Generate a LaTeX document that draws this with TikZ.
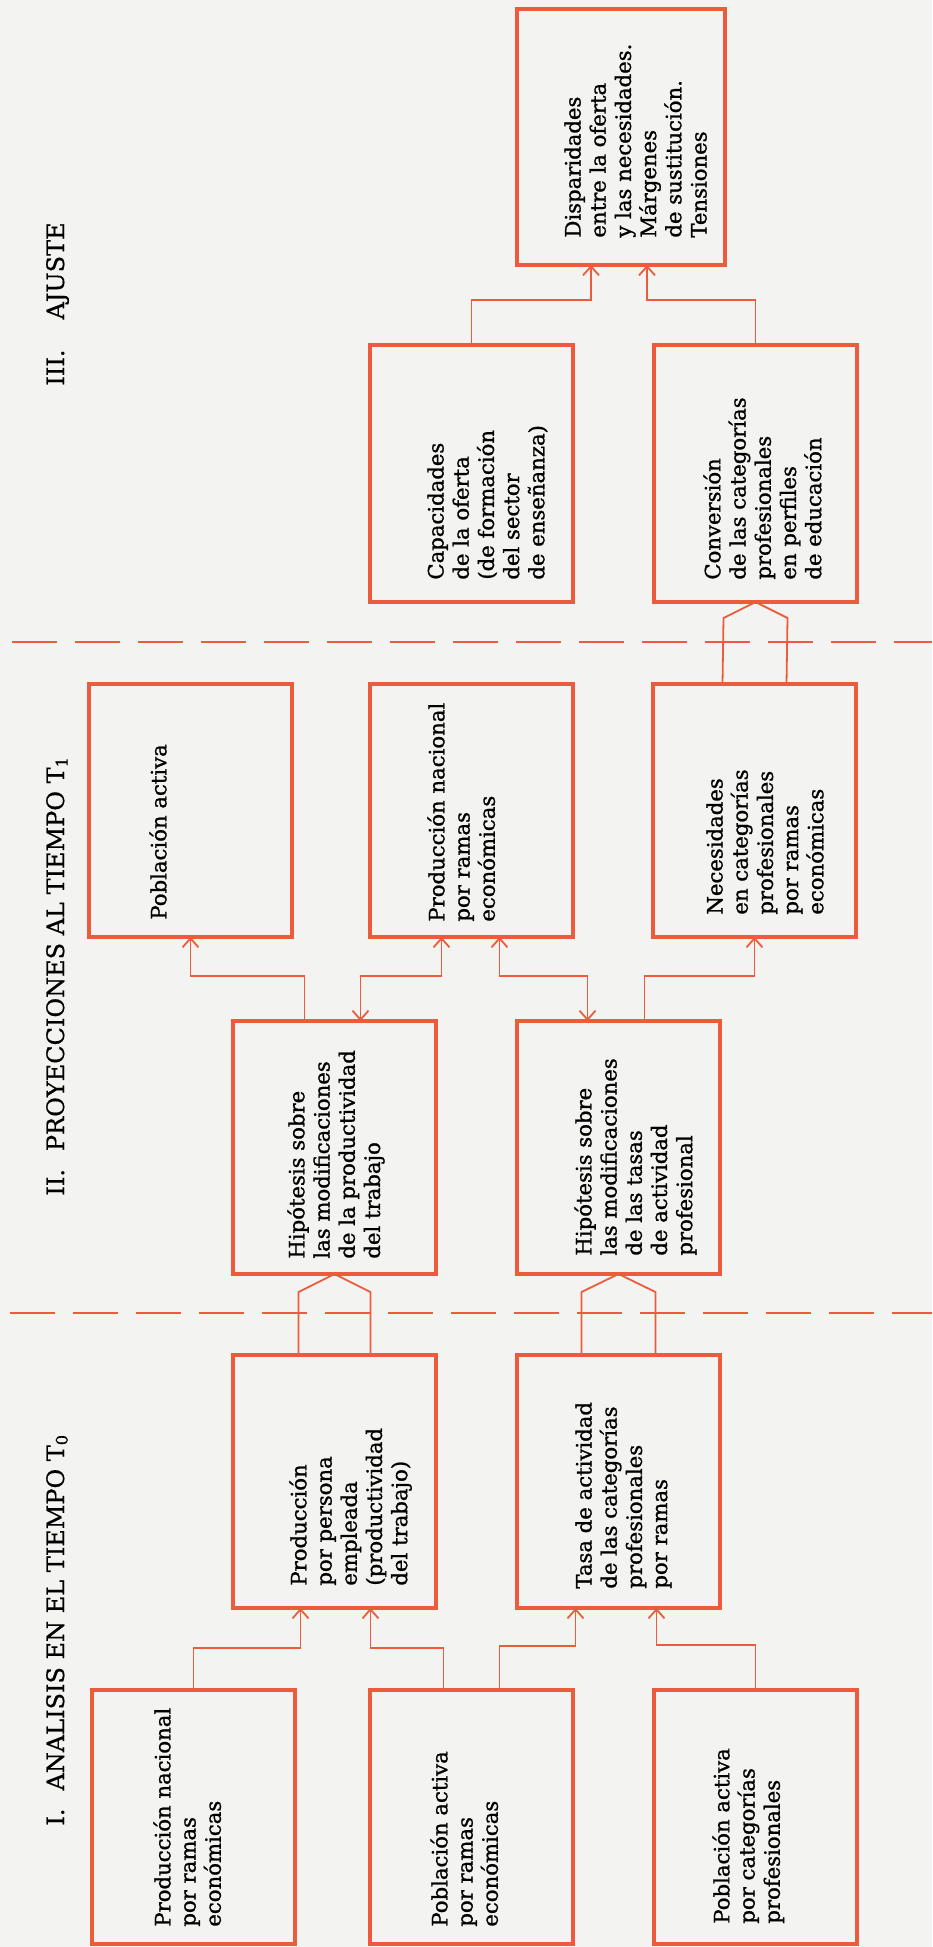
\documentclass[tikz,border=0pt]{standalone}
\usepackage{fontspec}
\setmainfont{DejaVu Serif}
\newfontfamily\boxface{DejaVu Serif}[FakeBold=1.1]
\newfontfamily\titleface{DejaVu Serif}[FakeBold=0.6]
\usetikzlibrary{arrows.meta}
\definecolor{ink}{RGB}{236,92,60}
\definecolor{paper}{RGB}{243,243,242}

\begin{document}
\begin{tikzpicture}[x=0.5pt,y=-0.5pt,
  box/.style={draw=ink, line width=1.75pt, inner sep=0, outer sep=0,
    anchor=north west, minimum width=101.5pt, minimum height=127pt},
  lbl/.style={rotate=90, anchor=north west, align=left, inner sep=0,
    font=\boxface\fontsize{10.6}{12.6}\selectfont},
  ttl/.style={rotate=90, anchor=base west, inner sep=0,
    font=\titleface\fontsize{12}{14}\selectfont},
  link/.style={draw=ink, line width=0.9pt},
  tip/.style={-{Straight Barb[length=4.5pt,width=8pt]}},
  tips/.style={{Straight Barb[length=4.5pt,width=8pt]}-{Straight Barb[length=4.5pt,width=8pt]}},
  sep/.style={draw=ink, line width=1pt, dash pattern=on 22.5pt off 9pt}]

% page
\fill[paper] (0,0) rectangle (932,1947);
\useasboundingbox (0,0) rectangle (932,1947);

% section separators
\draw[sep] (12,642) -- (932,642);
\draw[sep] (10,1313) -- (932,1313);

% section titles
\node[ttl] (t3) at (64,386) {III.\hspace{15pt}AJUSTE};
\node[ttl] (t2) at (64,1196) {II.\hspace{9pt}PROYECCIONES AL TIEMPO T\textsubscript{1}};
\node[ttl] (t1) at (64,1826) {I.\hspace{9pt}ANALISIS EN EL TIEMPO T\textsubscript{0}};

% III. Ajuste
\node[box, minimum width=104pt, minimum height=128pt] (disp) at (517,9) {};
\node[box, minimum height=128.5pt] (cap) at (370,345) {};
\node[box, minimum height=128.5pt] (conv) at (654,345) {};

% II. Proyecciones
\node[box, minimum height=126.5pt] (pob2) at (89,684) {};
\node[box, minimum height=126.5pt] (prod2) at (370,684) {};
\node[box, minimum height=126.5pt] (nec) at (653,684) {};
\node[box, minimum height=126.5pt] (hyp1) at (233,1021) {};
\node[box, minimum height=126.5pt] (hyp2) at (517,1021) {};

% I. Analisis
\node[box, minimum height=126.5pt] (pp) at (233,1355) {};
\node[box, minimum height=126.5pt] (tasa) at (517,1355) {};
\node[box] (a) at (92,1690) {};
\node[box] (b) at (370,1690) {};
\node[box] (c) at (654,1690) {};

% box texts
\node[lbl] at ([shift={(47,-27)}]disp.south west)
  {Disparidades\\entre la oferta\\y las necesidades.\\Márgenes\\de sustitución.\\Tensiones};
\node[lbl] at ([shift={(57,-22)}]cap.south west)
  {Capacidades\\de la oferta\\(de formación\\del sector\\de enseñanza)};
\node[lbl] at ([shift={(49,-22)}]conv.south west)
  {Conversión\\de las categorías\\profesionales\\en perfiles\\de educación};
\node[lbl] at ([shift={(60,-17)}]pob2.south west) {Población activa};
\node[lbl] at ([shift={(57,-15)}]prod2.south west)
  {Producción nacional\\por ramas\\económicas};
\node[lbl] at ([shift={(53,-22)}]nec.south west)
  {Necesidades\\en categorías\\profesionales\\por ramas\\económicas};
\node[lbl] at ([shift={(54,-15)}]hyp1.south west)
  {Hipótesis sobre\\las modificaciones\\de la productividad\\del trabajo};
\node[lbl] at ([shift={(57,-18)}]hyp2.south west)
  {Hipótesis sobre\\las modificaciones\\de las tasas\\de actividad\\profesional};
\node[lbl] at ([shift={(56,-22)}]pp.south west)
  {Producción\\por persona\\empleada\\(productividad\\del trabajo)};
\node[lbl] at ([shift={(58,-19)}]tasa.south west)
  {Tasa de actividad\\de las categorías\\profesionales\\por ramas};
\node[lbl] at ([shift={(61,-17)}]a.south west)
  {Producción nacional\\por ramas\\económicas};
\node[lbl] at ([shift={(60,-17)}]b.south west)
  {Población activa\\por ramas\\económicas};
\node[lbl] at ([shift={(58,-20)}]c.south west)
  {Población activa\\por categorías\\profesionales};

% I -> I
\draw[link,tip] (a.north) -- ++(0,-42) -| ([xshift=-17pt]pp.south);
\draw[link,tip] ([xshift=-14pt]b.north) -- ++(0,-42) -| ([xshift=18pt]pp.south);
\draw[link,tip] ([xshift=14pt]b.north) -- ++(0,-44) -| ([xshift=-21.5pt]tasa.south);
\draw[link,tip] (c.north) -- ++(0,-45) -| ([xshift=19pt]tasa.south);

% I -> II
\draw[link] ([xshift=-18pt]pp.north) -- ([xshift=-18pt,yshift=-9pt]hyp1.south)
  -- (hyp1.south) -- ([xshift=18pt,yshift=-9pt]hyp1.south) -- ([xshift=18pt]pp.north);
\draw[link] ([xshift=-18.5pt]tasa.north) -- ([xshift=-18.5pt,yshift=-9pt]hyp2.south)
  -- (hyp2.south) -- ([xshift=18.5pt,yshift=-9pt]hyp2.south) -- ([xshift=18.5pt]tasa.north);

% II
\draw[link,tip] ([xshift=-15pt]hyp1.north) -- ++(0,-45) -| (pob2.south);
\draw[link,tips] ([xshift=13pt]hyp1.north) -- ++(0,-45) -| ([xshift=-15pt]prod2.south);
\draw[link,tips] ([xshift=14pt]prod2.south) -- ++(0,39) -| ([xshift=-15.5pt]hyp2.north);
\draw[link,tip] ([xshift=13pt]hyp2.north) -- ++(0,-45) -| (nec.south);

% II -> III
\draw[link] ([xshift=-16pt]nec.north) -- ([xshift=-16pt,yshift=-8pt]conv.south)
  -- (conv.south) -- ([xshift=16pt,yshift=-8pt]conv.south) -- ([xshift=16pt]nec.north);

% III
\draw[link,tip] (cap.north) -- ++(0,-45) -| ([xshift=-15pt]disp.south);
\draw[link,tip] (conv.north) -- ++(0,-45) -| ([xshift=13pt]disp.south);
\end{tikzpicture}
\end{document}
